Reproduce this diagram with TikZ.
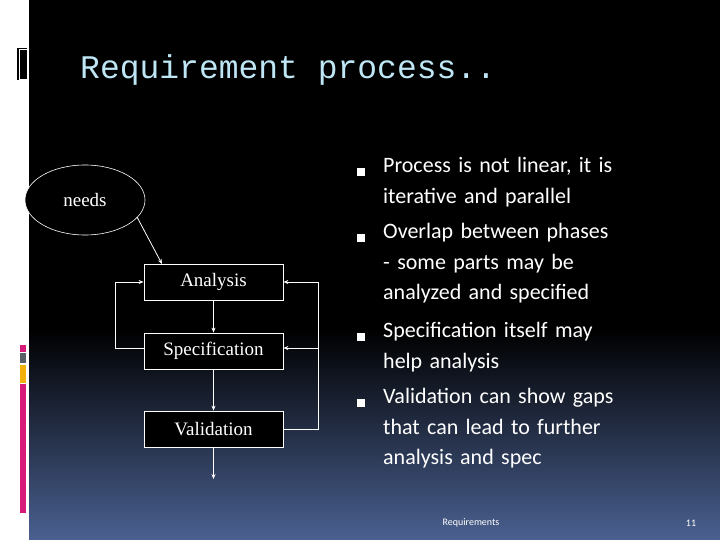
\documentclass[tikz,border=0pt]{standalone}
\usepackage{fontspec}
\setmainfont{Liberation Serif}
\newfontfamily\bodyf{Carlito}
\newfontfamily\titlef{Liberation Mono}
\usetikzlibrary{arrows.meta,shapes.geometric}
\definecolor{bgbot}{HTML}{4A6090}
\definecolor{titlec}{HTML}{BEE6F5}
\definecolor{pinkc}{HTML}{D81B7A}
\definecolor{grayc}{HTML}{5A6068}
\definecolor{orangec}{HTML}{F2B00C}
\begin{document}
\begin{tikzpicture}[x=1pt,y=-1pt,
  box/.style={draw=white,line width=0.8pt,fill=black,minimum width=139pt,minimum height=36pt,inner sep=0pt,text=white,font=\fontsize{19}{20}\selectfont},
  conn/.style={white,line width=0.8pt,-{Stealth[length=5pt,width=4pt]}},
  plain/.style={white,line width=0.8pt},
  btxt/.style={anchor=north west,text=white,font=\bodyf\fontsize{22}{30.6}\selectfont,align=left,inner sep=0pt,text width=300pt}]
\useasboundingbox (0,0) rectangle (720,540);
\fill[white] (0,0) rectangle (720,540);
\fill[black] (29,0) rectangle (720,330);
\shade[top color=black,bottom color=bgbot] (29,329.5) rectangle (720,540);
% left decorations
\fill[black] (17,48) rectangle (27,80);
\draw[white,line width=0.5pt] (19,49) rectangle (27,79);
\fill[pinkc] (20,345) rectangle (26,352);
\fill[grayc] (20,353) rectangle (26,363);
\fill[orangec] (20,365) rectangle (26,383);
\fill[pinkc] (20,384) rectangle (26,513);
% title
\node[anchor=west,text=titlec,font=\titlef\fontsize{33}{36}\selectfont,inner sep=0pt] (title) at (80,70) {Requirement process..};
% diagram
\node[ellipse,draw=white,line width=0.6pt,fill=black,minimum width=120pt,minimum height=70pt,text=white,font=\fontsize{19}{20}\selectfont] (needs) at (85,200) {needs};
\node[box] (ana) at (213.5,282) {Analysis};
\node[box] (spec) at (213.5,351) {Specification};
\node[box] (val) at (213.5,429) {Validation};
\coordinate (end) at (213.5,479);
\coordinate (lt) at (115,282);
\coordinate (lb) at (115,348);
\coordinate (rb) at (318,429);
\coordinate (rt) at (318,282);
\coordinate (rm) at (318,348);
\draw[conn] (137,217) -- (162,264);
\draw[conn] (ana) -- (spec);
\draw[conn] (spec) -- (val);
\draw[conn] (val) -- (end);
\draw[plain] (spec.west |- lb) -- (lb) -- (lt);
\draw[conn] (lt) -- (ana.west);
\draw[plain] (val.east) -- (rb) -- (rt);
\draw[conn] (rt) -- (ana.east);
\draw[conn] (rm) -- (spec.east |- rm);
% bullets
\foreach \y in {172,238,337,403} \fill[white] (357,\y-4) rectangle (365,\y+4);
\node[btxt] (b1) at (383,157) {Process is not linear, it is\\iterative and parallel};
\node[btxt] (b2) at (383,223) {Overlap between phases\\- some parts may be\\analyzed and specified};
\node[btxt] (b3) at (383,322) {Specification itself may\\help analysis};
\node[btxt] (b4) at (383,388) {Validation can show gaps\\that can lead to further\\analysis and spec};
\node[text=white,font=\bodyf\fontsize{10}{12}\selectfont,inner sep=0pt] (foot) at (471,523) {Requirements};
\node[text=white,font=\bodyf\fontsize{10}{12}\selectfont,inner sep=0pt] (pg) at (691,523) {11};
\end{tikzpicture}
\end{document}
